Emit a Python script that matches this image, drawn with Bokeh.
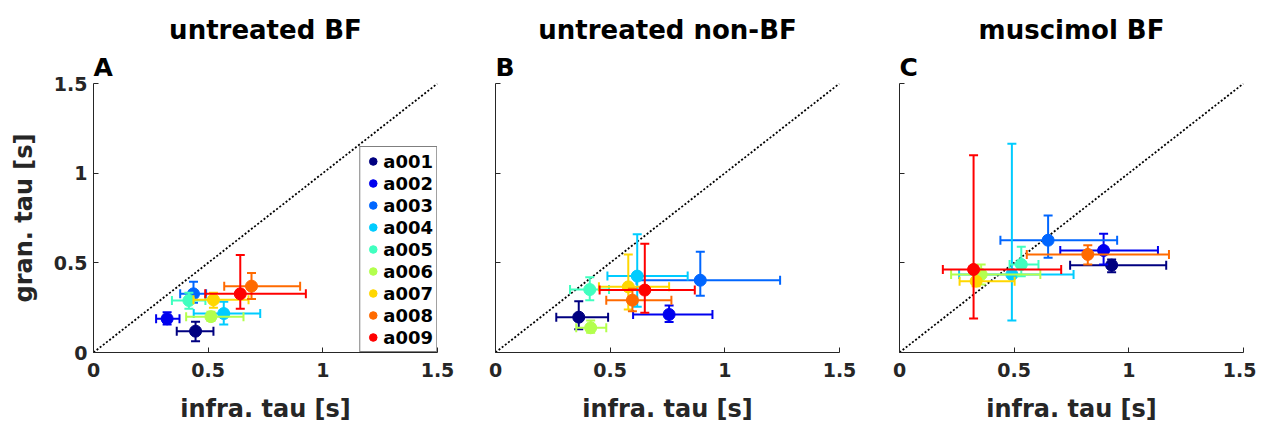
from bokeh.plotting import figure
from bokeh.layouts import row
from bokeh.models import Range1d, FixedTicker, CustomJSTickFormatter, Legend, Title
from bokeh.embed import file_html
from bokeh.resources import INLINE

ids = ["a001", "a002", "a003", "a004", "a005", "a006", "a007", "a008", "a009"]
colors = ["#000080", "#0000EE", "#0066FF", "#00CCFF", "#40FFBF",
          "#B3FF4D", "#FFD700", "#FF6A00", "#FF0000"]

titles = ["untreated BF", "untreated non-BF", "muscimol BF"]
letters = ["A", "B", "C"]
ticks = [0, 0.5, 1, 1.5]

# Panel A: untreated BF
A_x = [0.445, 0.321, 0.436, 0.568, 0.416, 0.512, 0.523, 0.689, 0.640]
A_x_lo = [0.363, 0.273, 0.378, 0.437, 0.342, 0.404, 0.436, 0.570, 0.487]
A_x_hi = [0.523, 0.375, 0.491, 0.727, 0.488, 0.654, 0.676, 0.901, 0.926]
A_y = [0.119, 0.188, 0.327, 0.217, 0.290, 0.200, 0.294, 0.370, 0.327]
A_y_lo = [0.063, 0.156, 0.277, 0.156, 0.244, 0.175, 0.250, 0.299, 0.244]
A_y_hi = [0.171, 0.225, 0.394, 0.283, 0.333, 0.227, 0.333, 0.444, 0.543]

# Panel B: untreated non-BF
B_x = [0.363, 0.757, 0.893, 0.618, 0.411, 0.415, 0.579, 0.597, 0.651]
B_x_lo = [0.265, 0.600, 0.615, 0.488, 0.325, 0.352, 0.451, 0.483, 0.454]
B_x_hi = [0.491, 0.946, 1.241, 0.838, 0.495, 0.483, 0.757, 0.767, 0.869]
B_y = [0.197, 0.212, 0.403, 0.426, 0.351, 0.138, 0.366, 0.292, 0.348]
B_y_lo = [0.130, 0.170, 0.316, 0.255, 0.292, 0.110, 0.240, 0.230, 0.221]
B_y_hi = [0.286, 0.262, 0.562, 0.660, 0.420, 0.178, 0.547, 0.355, 0.606]

# Panel C: muscimol BF
C_x = [0.925, 0.890, 0.648, 0.490, 0.531, 0.356, 0.334, 0.821, 0.323]
C_x_lo = [0.744, 0.701, 0.440, 0.260, 0.480, 0.225, 0.262, 0.555, 0.189]
C_x_hi = [1.163, 1.127, 0.949, 0.759, 0.606, 0.614, 0.502, 1.175, 0.705]
C_y = [0.487, 0.569, 0.626, 0.435, 0.491, 0.435, 0.398, 0.547, 0.463]
C_y_lo = [0.448, 0.491, 0.528, 0.178, 0.425, 0.379, 0.370, 0.491, 0.190]
C_y_hi = [0.519, 0.662, 0.764, 1.164, 0.589, 0.491, 0.453, 0.598, 1.100]

panels = [
    (A_x, A_x_lo, A_x_hi, A_y, A_y_lo, A_y_hi),
    (B_x, B_x_lo, B_x_hi, B_y, B_y_lo, B_y_hi),
    (C_x, C_x_lo, C_x_hi, C_y, C_y_lo, C_y_hi),
]

FONT = "DejaVu Sans"
DARK = "#262626"

borders = [(93, 28), (30, 30), (30, 13)]

figs = []
for k, (xs, xlo, xhi, ys, ylo, yhi) in enumerate(panels):
    p = figure(frame_width=344, frame_height=269, title=None,
               min_border_left=borders[k][0], min_border_right=borders[k][1],
               min_border_top=83, min_border_bottom=72,
               x_range=Range1d(0, 1.5), y_range=Range1d(0, 1.5),
               output_backend="svg", toolbar_location=None)
    p.outline_line_color = None
    p.xgrid.visible = False
    p.ygrid.visible = False
    p.background_fill_color = "white"
    p.border_fill_color = "white"

    for ax in (p.xaxis[0], p.yaxis[0]):
        ax.ticker = FixedTicker(ticks=ticks)
        ax.formatter = CustomJSTickFormatter(code="return tick.toString();")
        ax.major_tick_in = 5
        ax.major_tick_out = 0
        ax.minor_tick_line_color = None
        ax.axis_line_color = DARK
        ax.major_tick_line_color = DARK
        ax.major_label_text_font = FONT
        ax.major_label_text_font_style = "bold"
        ax.major_label_text_font_size = "19px"
        ax.major_label_text_color = DARK
        ax.axis_label_text_font = FONT
        ax.axis_label_text_font_style = "bold"
        ax.axis_label_text_font_size = "24px"
        ax.axis_label_text_color = DARK
    p.xaxis.major_label_standoff = 10
    p.yaxis.major_label_standoff = 6
    p.xaxis.axis_label = "infra. tau [s]"
    p.xaxis.axis_label_standoff = 15
    if k == 0:
        p.yaxis.axis_label = "gran. tau [s]"
        p.yaxis.axis_label_standoff = 13
    else:
        p.yaxis.formatter = CustomJSTickFormatter(code="return '';")

    # unity line
    p.line(x=[ticks[0], ticks[-1]], y=[ticks[0], ticks[-1]], line_color="black",
           line_width=1.8, line_dash="2 2")

    legend_items = []
    for i in range(len(ids)):
        c = colors[i]
        p.segment(x0=[xlo[i]], y0=[ys[i]], x1=[xhi[i]], y1=[ys[i]],
                  line_color=c, line_width=2)
        p.segment(x0=[xs[i]], y0=[ylo[i]], x1=[xs[i]], y1=[yhi[i]],
                  line_color=c, line_width=2)
        p.scatter(x=[xlo[i], xhi[i]], y=[ys[i], ys[i]], marker="dash",
                  angle=1.5708, size=9, line_color=c, line_width=2)
        p.scatter(x=[xs[i], xs[i]], y=[ylo[i], yhi[i]], marker="dash",
                  size=9, line_color=c, line_width=2)
        r = p.scatter(x=[xs[i]], y=[ys[i]], marker="circle", size=12,
                      fill_color=c, line_color=c)
        legend_items.append((ids[i], [r]))

    if k == 0:
        leg = Legend(items=legend_items, location="bottom_right")
        leg.margin = 0
        leg.padding = 3
        leg.spacing = 0
        leg.border_line_color = "black"
        leg.border_line_width = 1
        leg.label_text_font = FONT
        leg.label_text_font_style = "bold"
        leg.label_text_font_size = "18px"
        leg.label_text_color = "black"
        leg.glyph_width = 19
        leg.glyph_height = 22
        leg.label_height = 22
        leg.label_standoff = 1
        p.add_layout(leg, "center")

    p.add_layout(Title(text=letters[k], align="left", standoff=3,
                       text_font=FONT, text_font_style="bold",
                       text_font_size="25px", text_color="black"), "above")
    p.add_layout(Title(text=titles[k], align="center", standoff=10,
                       text_font=FONT, text_font_style="bold",
                       text_font_size="26px", text_color="black"), "above")
    figs.append(p)

layout = row(*figs)
open("out.html", "w").write(file_html(layout, INLINE))
